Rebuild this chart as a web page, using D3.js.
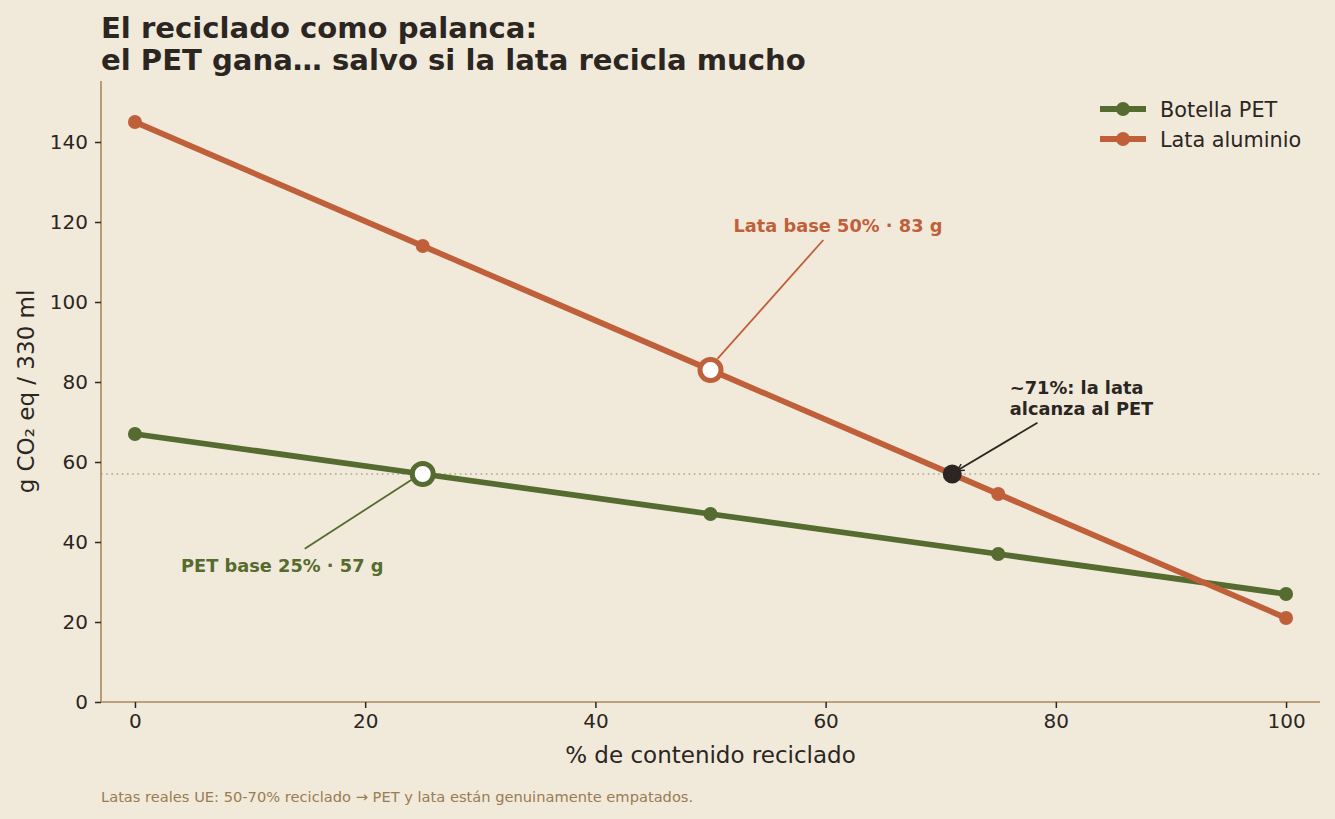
<!DOCTYPE html>
<html><head><meta charset="utf-8">
<script src="https://cdn.jsdelivr.net/npm/d3@7"></script>
<style>
html,body{margin:0;padding:0;background:#f1eada;}
svg{display:block;font-family:"DejaVu Sans",sans-serif;}
</style></head>
<body>
<script>
const recycled = [0, 25, 50, 75, 100];
const petValues = [67, 57, 47, 37, 27];
const canValues = [145, 114, 83, 52, 21];
const seriesNames = ["Botella PET", "Lata aluminio"];
const xTicks = [0, 20, 40, 60, 80, 100];
const yTicks = [0, 20, 40, 60, 80, 100, 120, 140];
const petBase = {x: 25, y: 57, label: "PET base 25% · 57 g"};
const canBase = {x: 50, y: 83, label: "Lata base 50% · 83 g"};
const crossing = {x: 71, y: 57, label: ["~71%: la lata", "alcanza al PET"]};
const titleLines = ["El reciclado como palanca:", "el PET gana… salvo si la lata recicla mucho"];
const footer = "Latas reales UE: 50-70% reciclado → PET y lata están genuinamente empatados.";

const W = 1335, H = 819;
const C = {bg:"#f1eada", pet:"#556b2f", can:"#c0603a", text:"#2b2622", spine:"#a8885e", foot:"#9a7b52", ref:"#a9a88a"};
const m = {l:101, r:1320, t:81, b:702};

const svg = d3.select("body").append("svg").attr("width", W).attr("height", H);
svg.append("rect").attr("width", W).attr("height", H).attr("fill", C.bg);

const x = d3.scaleLinear().domain([-2.95, 102.95]).range([m.l, m.r]);
const y = d3.scaleLinear().domain([0, 155.25]).range([m.b, m.t]);

// title
svg.append("g").selectAll("text").data(titleLines).join("text")
  .attr("x", m.l).attr("y", (d,i)=>38 + i*32)
  .attr("font-size", 29.1).attr("font-weight", "bold").attr("fill", C.text).text(d=>d);

// reference dotted line
svg.append("line").attr("x1", m.l).attr("x2", m.r).attr("y1", y(petBase.y)).attr("y2", y(petBase.y))
  .attr("stroke", C.ref).attr("stroke-width", 1.6).attr("stroke-dasharray", "1.6,3.6");

// axes
const xAxis = svg.append("g").attr("transform", `translate(0,${m.b})`)
  .call(d3.axisBottom(x).tickValues(xTicks).tickSize(6).tickPadding(6));
const yAxis = svg.append("g").attr("transform", `translate(${m.l},0)`)
  .call(d3.axisLeft(y).tickValues(yTicks).tickSize(6).tickPadding(7));
[xAxis, yAxis].forEach(g=>{
  g.select(".domain").attr("stroke", C.spine).attr("stroke-width", 1.6);
  g.selectAll(".tick line").attr("stroke", C.text).attr("stroke-width", 1.5);
  g.selectAll(".tick text").attr("fill", C.text).attr("font-size", 20).attr("font-family", "DejaVu Sans");
});
xAxis.select(".domain").attr("d", `M${m.l},0H${m.r}`);
yAxis.select(".domain").attr("d", `M0,${m.t}V${m.b}`);

svg.append("text").attr("x", (m.l+m.r)/2).attr("y", 763).attr("text-anchor", "middle")
  .attr("font-size", 23).attr("fill", C.text).text("% de contenido reciclado");
svg.append("text").attr("transform", `translate(34,${(m.t+m.b)/2}) rotate(-90)`).attr("text-anchor", "middle")
  .attr("font-size", 23).attr("fill", C.text).text("g CO₂ eq / 330 ml");

// lines
const series = [
  {name: seriesNames[0], vals: petValues, color: C.pet},
  {name: seriesNames[1], vals: canValues, color: C.can}
];
const line = d3.line().x(d=>x(d[0])).y(d=>y(d[1]));
series.forEach(s=>{
  const pts = recycled.map((r,i)=>[r, s.vals[i]]);
  svg.append("path").datum(pts).attr("d", line).attr("fill", "none")
    .attr("stroke", s.color).attr("stroke-width", 5.8).attr("stroke-linejoin", "round").attr("stroke-linecap", "round");
  svg.append("g").selectAll("circle").data(pts).join("circle")
    .attr("cx", d=>x(d[0])).attr("cy", d=>y(d[1])).attr("r", 7).attr("fill", s.color);
});

// can base annotation
svg.append("line").attr("x1", x(59.8)).attr("y1", y(115.5)).attr("x2", x(50.6)).attr("y2", y(85.8))
  .attr("stroke", C.can).attr("stroke-width", 1.8);
svg.append("text").attr("x", x(52)).attr("y", y(117.6)).attr("font-size", 17.8).attr("font-weight", "bold")
  .attr("fill", C.can).text(canBase.label);
// pet base annotation
svg.append("line").attr("x1", x(14.75)).attr("y1", y(38.3)).attr("x2", x(24.1)).attr("y2", y(55.7))
  .attr("stroke", C.pet).attr("stroke-width", 1.8);
svg.append("text").attr("x", x(4)).attr("y", y(32.6)).attr("font-size", 17.8).attr("font-weight", "bold")
  .attr("fill", C.pet).text(petBase.label);

// highlighted markers
svg.append("circle").attr("cx", x(canBase.x)).attr("cy", y(canBase.y)).attr("r", 10.5)
  .attr("fill", "#fff").attr("stroke", C.can).attr("stroke-width", 5);
svg.append("circle").attr("cx", x(petBase.x)).attr("cy", y(petBase.y)).attr("r", 10.5)
  .attr("fill", "#fff").attr("stroke", C.pet).attr("stroke-width", 5);

// crossing
svg.append("defs").append("marker").attr("id", "arr").attr("viewBox", "0 0 10 10").attr("refX", 9).attr("refY", 5)
  .attr("markerWidth", 9).attr("markerHeight", 9).attr("markerUnits", "userSpaceOnUse").attr("orient", "auto")
  .append("path").attr("d", "M1,1L9,5L1,9").attr("fill", "none").attr("stroke", C.text).attr("stroke-width", 1.6);
svg.append("circle").attr("cx", x(crossing.x)).attr("cy", y(crossing.y)).attr("r", 9.5).attr("fill", C.text);
svg.append("line").attr("x1", x(78.4)).attr("y1", y(69.8)).attr("x2", x(71.4)).attr("y2", y(57.8))
  .attr("stroke", C.text).attr("stroke-width", 1.8).attr("marker-end", "url(#arr)");
svg.append("g").selectAll("text").data(crossing.label).join("text")
  .attr("x", x(76)).attr("y", (d,i)=>y(77) + i*21).attr("font-size", 17.8).attr("font-weight", "bold")
  .attr("fill", C.text).text(d=>d);

// legend
const lg = svg.append("g").attr("transform", "translate(1100,109)");
series.forEach((s,i)=>{
  const g = lg.append("g").attr("transform", `translate(0,${i*30})`);
  g.append("line").attr("x1", 0).attr("x2", 46).attr("stroke", s.color).attr("stroke-width", 5.8);
  g.append("circle").attr("cx", 23).attr("r", 7).attr("fill", s.color);
  g.append("text").attr("x", 60).attr("y", 7.5).attr("font-size", 20.8).attr("fill", C.text).text(s.name);
});

// footer
svg.append("text").attr("x", m.l).attr("y", 802).attr("font-size", 14.65).attr("fill", C.foot).text(footer);
</script>
</body></html>
